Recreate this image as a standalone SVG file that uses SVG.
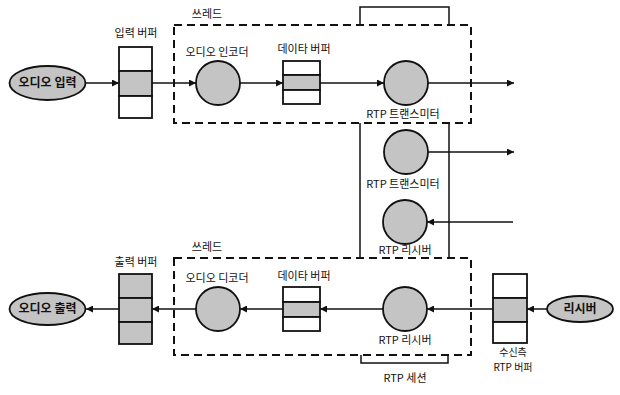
<svg xmlns="http://www.w3.org/2000/svg" width="620" height="395" viewBox="0 0 620 395">
<style>
text{font-family:"Noto Sans CJK KR","Liberation Sans",sans-serif;font-size:11px;fill:#111;text-anchor:middle}
.ell text{font-weight:bold;font-size:12px}
text.sm{font-size:10px}
.sh{fill:#c4c4c4;stroke:#111;stroke-width:1.8}
.wh{fill:#fff;stroke:#111;stroke-width:1.8}
.thread{fill:none;stroke:#111;stroke-width:2;stroke-dasharray:8 5}
.sess{fill:none;stroke:#111;stroke-width:1.5}
.conn line{stroke:#111;stroke-width:1.5;marker-end:url(#ah)}
</style>
<defs>
<marker id="ah" viewBox="0 0 10 10" refX="10" refY="5" markerWidth="9" markerHeight="7" markerUnits="userSpaceOnUse" orient="auto">
<path d="M0,0 L10,5 L0,10 z" fill="#111"/>
</marker>
</defs>
<g id="thread-top"><rect class="thread" x="174" y="25" width="297" height="98"/><text x="207" y="18">쓰레드</text></g>
<g id="thread-bottom"><rect class="thread" x="174" y="258" width="297" height="97"/><text x="207" y="251">쓰레드</text></g>
<g id="rtp-session">
<path class="sess" d="M360,25 V7 H449 V25"/>
<path class="sess" d="M360,123 V258 M449,123 V258"/>
<path class="sess" d="M361,355 V363 H448 V355"/>
<text x="405" y="382">RTP 세션</text>
</g>
<g id="audio-in" class="ell"><ellipse class="sh" cx="47.5" cy="83" rx="38" ry="17"/><text x="47.5" y="87">오디오 입력</text></g>
<g id="input-buffer"><rect class="wh" x="119" y="47" width="33" height="24"/><rect class="sh" x="119" y="71" width="33" height="25"/><rect class="wh" x="119" y="96" width="33" height="22"/><text x="136" y="37">입력 버퍼</text></g>
<g id="encoder"><circle class="sh" cx="218" cy="83" r="22"/><text x="217" y="56">오디오 인코더</text></g>
<g id="data-buffer-top"><rect class="wh" x="283" y="61" width="37" height="14"/><rect class="sh" x="283" y="75" width="37" height="15"/><rect class="wh" x="283" y="90" width="37" height="14"/><text x="304" y="53">데이타 버퍼</text></g>
<g id="rtp-tx1"><circle class="sh" cx="406" cy="83" r="22"/><text x="403" y="118">RTP 트랜스미터</text></g>
<g id="rtp-tx2"><circle class="sh" cx="406" cy="152" r="22"/><text x="403" y="188">RTP 트랜스미터</text></g>
<g id="rtp-rx1"><circle class="sh" cx="405" cy="222" r="22"/><text x="405" y="254">RTP 리시버</text></g>
<g id="rtp-rx2"><circle class="sh" cx="405" cy="309" r="22"/><text x="405" y="344">RTP 리시버</text></g>
<g id="recv-buffer"><rect class="wh" x="493" y="274" width="34" height="24"/><rect class="sh" x="493" y="298" width="34" height="24"/><rect class="wh" x="493" y="322" width="34" height="21"/><text class="sm" x="513" y="356">수신측</text><text class="sm" x="513" y="371">RTP 버퍼</text></g>
<g id="receiver" class="ell"><ellipse class="sh" cx="580" cy="309" rx="33" ry="13"/><text x="580" y="313">리시버</text></g>
<g id="data-buffer-bottom"><rect class="wh" x="283" y="287" width="37" height="15"/><rect class="sh" x="283" y="302" width="37" height="15"/><rect class="wh" x="283" y="317" width="37" height="14"/><text x="304" y="280">데이타 버퍼</text></g>
<g id="decoder"><circle class="sh" cx="218" cy="309" r="22"/><text x="217" y="282">오디오 디코더</text></g>
<g id="output-buffer"><rect class="sh" x="119" y="274" width="33" height="24"/><rect class="sh" x="119" y="298" width="33" height="24"/><rect class="sh" x="119" y="322" width="33" height="22"/><text x="136" y="266">출력 버퍼</text></g>
<g id="audio-out" class="ell"><ellipse class="sh" cx="47.5" cy="309" rx="38" ry="16"/><text x="47.5" y="313">오디오 출력</text></g>
<g id="connectors" class="conn">
<line x1="86" y1="83" x2="119" y2="83"/>
<line x1="152" y1="83" x2="196" y2="83"/>
<line x1="240" y1="83" x2="283" y2="83"/>
<line x1="320" y1="83" x2="384" y2="83"/>
<line x1="428" y1="83" x2="514" y2="83"/>
<line x1="428" y1="152" x2="514" y2="152"/>
<line x1="513" y1="222" x2="427" y2="222"/>
<line x1="547" y1="309" x2="527" y2="309"/>
<line x1="493" y1="309" x2="427" y2="309"/>
<line x1="383" y1="309" x2="320" y2="309"/>
<line x1="283" y1="309" x2="240" y2="309"/>
<line x1="196" y1="309" x2="152" y2="309"/>
<line x1="119" y1="309" x2="86" y2="309"/>
</g>
</svg>
